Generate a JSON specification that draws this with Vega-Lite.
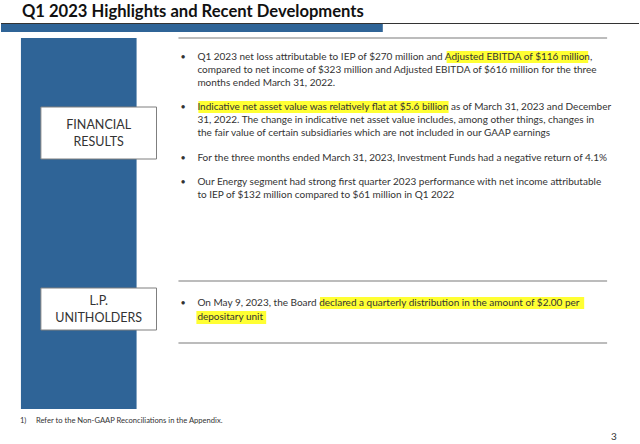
{
  "$schema": "https://vega.github.io/schema/vega-lite/v6.json",
  "width": 640,
  "height": 444,
  "autosize": {"type": "fit", "contains": "padding"},
  "padding": 0,
  "background": "white",
  "config": {"view": {"stroke": null}},
  "datasets": {
    "blue": [
      {"x": 0, "x2": 383, "y": 24, "y2": 32},
      {"x": 20, "x2": 136, "y": 38, "y2": 409}
    ],
    "boxes": [
      {"x": 40, "x2": 156, "y": 107, "y2": 159},
      {"x": 40, "x2": 156, "y": 288, "y2": 330}
    ],
    "darkline": [{"x": 0, "x2": 640, "y": 23.5}],
    "graylines": [
      {"x": 178, "x2": 608, "y": 38},
      {"x": 178, "x2": 608, "y": 281},
      {"x": 178, "x2": 608, "y": 343}
    ],
    "highlights": [
      {"x": 447, "x2": 589, "y": 51, "y2": 63},
      {"x": 198, "x2": 449, "y": 101, "y2": 113},
      {"x": 320, "x2": 585, "y": 297, "y2": 309},
      {"x": 196, "x2": 266, "y": 311, "y2": 324}
    ],
    "bullets": [
      {"x": 180, "y": 57}, {"x": 180, "y": 107}, {"x": 180, "y": 158},
      {"x": 180, "y": 182}, {"x": 180, "y": 303}
    ],
    "body": [
      {"x": 197, "y": 57, "t": "Q1 2023 net loss attributable to IEP of $270 million and Adjusted EBITDA of $116 million,"},
      {"x": 197, "y": 70, "t": "compared to net income of $323 million and Adjusted EBITDA of $616 million for the three"},
      {"x": 197, "y": 83, "t": "months ended March 31, 2022."},
      {"x": 197, "y": 107, "t": "Indicative net asset value was relatively flat at $5.6 billion as of March 31, 2023 and December"},
      {"x": 197, "y": 120, "t": "31, 2022. The change in indicative net asset value includes, among other things, changes in"},
      {"x": 197, "y": 133, "t": "the fair value of certain subsidiaries which are not included in our GAAP earnings"},
      {"x": 197, "y": 158, "t": "For the three months ended March 31, 2023, Investment Funds had a negative return of 4.1%"},
      {"x": 197, "y": 182, "t": "Our Energy segment had strong first quarter 2023 performance with net income attributable"},
      {"x": 197, "y": 195, "t": "to IEP of $132 million compared to $61 million in Q1 2022"},
      {"x": 197, "y": 303, "t": "On May 9, 2023, the Board declared a quarterly distribution in the amount of $2.00 per"},
      {"x": 197, "y": 317, "t": "depositary unit"}
    ],
    "labels": [
      {"x": 98, "y": 125, "t": "FINANCIAL"},
      {"x": 98, "y": 142, "t": "RESULTS"},
      {"x": 98, "y": 301, "t": "L.P."},
      {"x": 98, "y": 318, "t": "UNITHOLDERS"}
    ],
    "title": [{"x": 21, "y": 12, "t": "Q1 2023 Highlights and Recent Developments"}],
    "foot": [
      {"x": 19, "y": 421, "t": "1)"},
      {"x": 35, "y": 421, "t": "Refer to the Non-GAAP Reconciliations in the Appendix."}
    ],
    "page": [{"x": 612, "y": 437, "t": "3"}]
  },
  "encoding": {
    "x": {"field": "x", "type": "quantitative", "scale": {"domain": [0, 640], "nice": false, "zero": false}, "axis": null},
    "y": {"field": "y", "type": "quantitative", "scale": {"domain": [0, 444], "nice": false, "zero": false, "reverse": true}, "axis": null}
  },
  "layer": [
    {"data": {"name": "darkline"}, "mark": {"type": "rule", "color": "#333333", "strokeWidth": 1.2},
     "encoding": {"x2": {"field": "x2"}}},
    {"data": {"name": "blue"}, "mark": {"type": "rect", "color": "#2f6497"},
     "encoding": {"x2": {"field": "x2"}, "y2": {"field": "y2"}}},
    {"data": {"name": "boxes"}, "mark": {"type": "rect", "fill": "white", "stroke": "#7f7f7f", "strokeWidth": 1},
     "encoding": {"x2": {"field": "x2"}, "y2": {"field": "y2"}}},
    {"data": {"name": "graylines"}, "mark": {"type": "rule", "color": "#a6a6a6", "strokeWidth": 1.5},
     "encoding": {"x2": {"field": "x2"}}},
    {"data": {"name": "highlights"}, "mark": {"type": "rect", "color": "#ffff33"},
     "encoding": {"x2": {"field": "x2"}, "y2": {"field": "y2"}}},
    {"data": {"name": "bullets"}, "mark": {"type": "text", "text": "•", "font": "Lato", "fontSize": 9, "color": "#333333", "baseline": "middle", "align": "left"}},
    {"data": {"name": "body"}, "mark": {"type": "text", "font": "Lato", "fontSize": 10, "color": "#333333", "baseline": "middle", "align": "left"},
     "encoding": {"text": {"field": "t"}}},
    {"data": {"name": "labels"}, "mark": {"type": "text", "font": "Lato", "fontSize": 12.5, "color": "#333333", "baseline": "middle", "align": "center"},
     "encoding": {"text": {"field": "t"}}},
    {"data": {"name": "title"}, "mark": {"type": "text", "font": "Lato", "fontSize": 16.6, "fontWeight": "bold", "color": "#111111", "baseline": "middle", "align": "left"},
     "encoding": {"text": {"field": "t"}}},
    {"data": {"name": "foot"}, "mark": {"type": "text", "font": "Lato", "fontSize": 7.6, "color": "#333333", "baseline": "middle", "align": "left"},
     "encoding": {"text": {"field": "t"}}},
    {"data": {"name": "page"}, "mark": {"type": "text", "font": "Lato", "fontSize": 10, "color": "#333333", "baseline": "middle", "align": "left"},
     "encoding": {"text": {"field": "t"}}}
  ]
}
